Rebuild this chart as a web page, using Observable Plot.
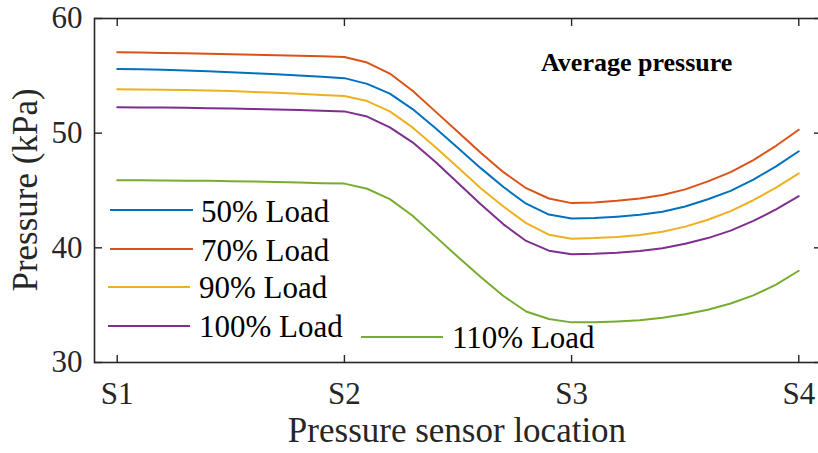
<!DOCTYPE html>
<html>
<head>
<meta charset="utf-8">
<script src="https://cdn.jsdelivr.net/npm/d3@7"></script>
<script src="https://cdn.jsdelivr.net/npm/@observablehq/plot@0.6"></script>
<style>
  html, body { margin: 0; padding: 0; background: #fff; overflow: hidden; }
  #chart { position: relative; width: 818px; height: 453px; }
  #chart svg text.note { font-family: "Liberation Serif", "Times New Roman", serif; }
</style>
</head>
<body>
<div id="chart"></div>
<script>
// Sensor positions along the path (S1 = 1 ... S4 = 4), sampled every 0.1
const sensorPos = [
  1.0, 1.1, 1.2, 1.3, 1.4, 1.5, 1.6, 1.7, 1.8, 1.9,
  2.0, 2.1, 2.2, 2.3, 2.4, 2.5, 2.6, 2.7, 2.8, 2.9,
  3.0, 3.1, 3.2, 3.3, 3.4, 3.5, 3.6, 3.7, 3.8, 3.9, 4.0
];

// Average pressure (kPa) per load case
const load50 = [
  55.60, 55.57, 55.52, 55.46, 55.39, 55.31, 55.22, 55.13, 55.03, 54.92,
  54.80, 54.30, 53.45, 52.10, 50.45, 48.70, 46.95, 45.30, 43.85, 42.90,
  42.55, 42.60, 42.72, 42.88, 43.14, 43.60, 44.24, 44.97, 45.95, 47.10, 48.42
];
const load70 = [
  57.05, 57.03, 57.00, 56.97, 56.93, 56.89, 56.84, 56.80, 56.75, 56.70,
  56.65, 56.16, 55.20, 53.70, 51.90, 50.10, 48.30, 46.60, 45.20, 44.30,
  43.90, 43.96, 44.10, 44.30, 44.60, 45.10, 45.80, 46.60, 47.65, 48.90, 50.30
];
const load90 = [
  53.82, 53.81, 53.79, 53.76, 53.72, 53.67, 53.60, 53.52, 53.43, 53.33,
  53.25, 52.80, 51.90, 50.50, 48.80, 47.00, 45.20, 43.60, 42.15, 41.15,
  40.80, 40.85, 40.95, 41.12, 41.40, 41.85, 42.45, 43.20, 44.15, 45.25, 46.50
];
const load100 = [
  52.25, 52.24, 52.23, 52.21, 52.18, 52.15, 52.11, 52.06, 52.01, 51.95,
  51.90, 51.45, 50.50, 49.20, 47.50, 45.65, 43.80, 42.05, 40.60, 39.75,
  39.45, 39.48, 39.58, 39.73, 39.97, 40.35, 40.85, 41.50, 42.35, 43.35, 44.50
];
const load110 = [
  45.90, 45.89, 45.88, 45.86, 45.84, 45.81, 45.78, 45.74, 45.69, 45.64,
  45.60, 45.15, 44.25, 42.80, 41.00, 39.20, 37.45, 35.80, 34.45, 33.80,
  33.50, 33.52, 33.58, 33.68, 33.90, 34.20, 34.60, 35.15, 35.85, 36.80, 38.00
];

const loadNames = ["50% Load", "70% Load", "90% Load", "100% Load", "110% Load"];
const sensorTicks = [1, 2, 3, 4];
const sensorLabels = ["S1", "S2", "S3", "S4"];
const pressureTicks = [30, 40, 50, 60];

const seriesValues = [load50, load70, load90, load100, load110];
const lineColors = ["#0072BD", "#D95319", "#EDB120", "#7E2F8E", "#77AC30"];

// Long-format table for Plot
const rows = [];
seriesValues.forEach((vals, s) => {
  vals.forEach((v, i) => rows.push({series: loadNames[s], pos: sensorPos[i], value: v}));
});

const ink = "#262626";
const serif = "'Liberation Serif', 'Times New Roman', serif";

const chart = Plot.plot({
  width: 818,
  height: 453,
  marginLeft: 94,
  marginRight: -3,
  marginTop: 18,
  marginBottom: 91,
  x: {domain: [0.9, 4.1]},
  y: {domain: [30, 60]},
  color: {domain: loadNames, range: lineColors},
  style: {fontFamily: serif, fontSize: "31px", color: ink, background: "white"},
  marks: [
    Plot.frame({stroke: ink, strokeWidth: 1.6}),
    Plot.axisX({anchor: "bottom", ticks: sensorTicks, tickSize: -7, tickPadding: 26,
      tickFormat: d => sensorLabels[sensorTicks.indexOf(d)], label: null, strokeWidth: 1.4}),
    Plot.axisX({anchor: "top", ticks: sensorTicks, tickSize: -7, tickFormat: () => "", label: null, strokeWidth: 1.4}),
    Plot.axisY({anchor: "left", ticks: pressureTicks, tickSize: -8, tickPadding: 20, label: null, strokeWidth: 1.4}),
    Plot.axisY({anchor: "right", ticks: pressureTicks, tickSize: -8, tickFormat: () => "", label: null, strokeWidth: 1.4}),
    Plot.line(rows, {x: "pos", y: "value", z: "series", stroke: "series", strokeWidth: 2})
  ]
});

document.getElementById("chart").appendChild(chart);

// Annotations: axis titles, panel title and legend
const svg = d3.select(chart);

function note(sel) {
  return sel.attr("class", "note")
    .style("font-family", serif)
    .style("text-anchor", "start");
}

note(svg.append("text"))
  .attr("x", 457).attr("y", 442)
  .style("text-anchor", "middle")
  .style("font-size", "35px").attr("fill", ink)
  .text("Pressure sensor location");

note(svg.append("text"))
  .attr("transform", "translate(37,190) rotate(-90)")
  .style("text-anchor", "middle")
  .style("font-size", "35px").attr("fill", ink)
  .text("Pressure (kPa)");

note(svg.append("text"))
  .attr("x", 541).attr("y", 71)
  .style("font-size", "26px").style("font-weight", "bold").attr("fill", "#000")
  .text("Average pressure");

const legendLayout = [
  {x1: 110, x2: 193, y: 210, tx: 201, ty: 222},
  {x1: 110, x2: 193, y: 249, tx: 201, ty: 261},
  {x1: 108, x2: 190, y: 287, tx: 199, ty: 298},
  {x1: 108, x2: 190, y: 326, tx: 199, ty: 337},
  {x1: 361, x2: 443, y: 337, tx: 452, ty: 348}
];
const legend = svg.append("g");
loadNames.forEach((name, i) => {
  const L = legendLayout[i];
  legend.append("line")
    .attr("x1", L.x1).attr("x2", L.x2).attr("y1", L.y).attr("y2", L.y)
    .attr("stroke", lineColors[i]).attr("stroke-width", 2);
  note(legend.append("text"))
    .attr("x", L.tx).attr("y", L.ty)
    .style("font-size", "31px").attr("fill", "#000")
    .text(name);
});
</script>
</body>
</html>
